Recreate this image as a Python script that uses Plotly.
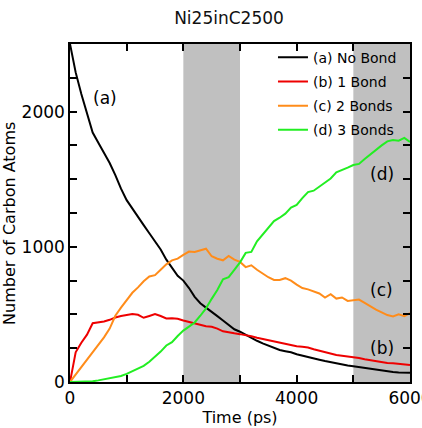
import plotly.graph_objects as go

time_ps = list(range(0, 6001, 100))

no_bond = [2500, 2290, 2130, 1990, 1845, 1770, 1695, 1620, 1530, 1430,
           1345, 1280, 1215, 1160, 1100, 1040, 980, 905, 840, 785,
           750, 695, 630, 583, 550, 515, 487, 455, 420, 390,
           372, 348, 325, 305, 286, 268, 252, 237, 228, 220,
           205, 196, 188, 175, 165, 155, 146, 138, 130, 122,
           116, 110, 102, 95, 88, 82, 77, 74, 71, 69, 68]

one_bond = [0, 220, 290, 350, 435, 440, 447, 460, 477, 488,
            497, 502, 497, 475, 488, 502, 488, 470, 472, 468,
            455, 445, 432, 425, 412, 408, 395, 375, 370, 360,
            354, 348, 338, 327, 318, 308, 297, 290, 280, 273,
            265, 260, 255, 242, 232, 220, 207, 200, 195, 190,
            187, 178, 168, 160, 152, 145, 140, 138, 132, 126, 125]

two_bonds = [0, 55, 110, 160, 212, 268, 330, 395, 490, 550,
             605, 660, 700, 745, 780, 790, 830, 870, 900, 912,
             940, 965, 962, 975, 986, 930, 912, 900, 932, 905,
             888, 850, 863, 830, 800, 775, 755, 755, 768, 750,
             720, 695, 685, 672, 655, 625, 650, 617, 625, 600,
             603, 610, 585, 558, 535, 515, 495, 485, 500, 487, 510]

three_bonds = [0, 0, 0, 2, 5, 12, 20, 33, 36, 45,
               60, 78, 98, 120, 150, 185, 225, 270, 295, 340,
               380, 410, 440, 490, 545, 615, 680, 760, 775, 830,
               885, 955, 962, 1040, 1090, 1145, 1190, 1215, 1245, 1290,
               1310, 1360, 1405, 1415, 1445, 1480, 1505, 1550, 1565, 1585,
               1605, 1613, 1650, 1685, 1720, 1750, 1780, 1790, 1785, 1806, 1775]

series_names = ["(a) No Bond", "(b) 1 Bond", "(c) 2 Bonds", "(d) 3 Bonds"]
series_values = [no_bond, one_bond, two_bonds, three_bonds]
series_colors = ["#000000", "#ee0000", "#ff8c1a", "#22ee22"]

shaded_intervals = [(2000, 3000), (5000, 6000)]

label_texts = ["(a)", "(b)", "(c)", "(d)"]
label_x = [620, 5500, 5500, 5500]
label_y = [2100, 255, 683, 1542]

x_ticks = [0, 2000, 4000, 6000]
y_ticks = [0, 1000, 2000]

FONT = "DejaVu Sans"

fig = go.Figure()
for i, (name, vals, col) in enumerate(zip(series_names, series_values, series_colors)):
    fig.add_trace(go.Scatter(x=time_ps, y=vals, mode="lines", name=name,
                             legendgroup=f"g{i}",
                             line=dict(color=col, width=2)))

for x0, x1 in shaded_intervals:
    fig.add_vrect(x0=x0, x1=x1, fillcolor="#c0c0c0", opacity=1,
                  line_width=0, layer="below")

for t, x, y in zip(label_texts, label_x, label_y):
    fig.add_annotation(x=x, y=y, text=t, showarrow=False,
                       font=dict(family=FONT, size=17, color="black"))

fig.add_annotation(xref="paper", yref="paper", x=-0.18, y=0.47,
                   text="Number of Carbon Atoms", textangle=-90,
                   showarrow=False, xanchor="center", yanchor="middle",
                   font=dict(family=FONT, size=16, color="black"))

axis_common = dict(showline=True, linecolor="black", linewidth=1.5,
                   mirror="allticks", ticks="inside", ticklen=7,
                   tickwidth=1.5, tickcolor="black", showgrid=False,
                   zeroline=False, ticklabeloverflow="allow",
                   automargin=False,
                   tickfont=dict(family=FONT, size=17, color="black"))

fig.update_xaxes(range=[0, 6000], tickvals=x_ticks,
                 minor=dict(tickvals=[1000, 3000, 5000], ticks="inside",
                            ticklen=7, tickwidth=1.5, tickcolor="black",
                            showgrid=False),
                 title=dict(text="Time (ps)", standoff=4,
                            font=dict(family=FONT, size=16, color="black")),
                 **axis_common)
fig.update_yaxes(range=[0, 2500], tickvals=y_ticks,
                 minor=dict(dtick=250, ticks="inside", ticklen=7,
                            tickwidth=1.5, tickcolor="black", showgrid=False),
                 **axis_common)

fig.update_layout(
    width=422, height=428,
    margin=dict(l=70, r=12, t=44, b=46, autoexpand=False),
    paper_bgcolor="white", plot_bgcolor="white",
    title=dict(text="Ni25inC2500", x=229/422, xanchor="center",
               y=1 - 18/428, yanchor="middle",
               font=dict(family=FONT, size=17, color="#111111")),
    showlegend=True,
    legend=dict(x=0.597, y=1.007, xanchor="left", yanchor="top",
                bgcolor="rgba(0,0,0,0)", borderwidth=0,
                font=dict(family=FONT, size=14, color="black"),
                tracegroupgap=3),
)

fig.write_html("out.html")
